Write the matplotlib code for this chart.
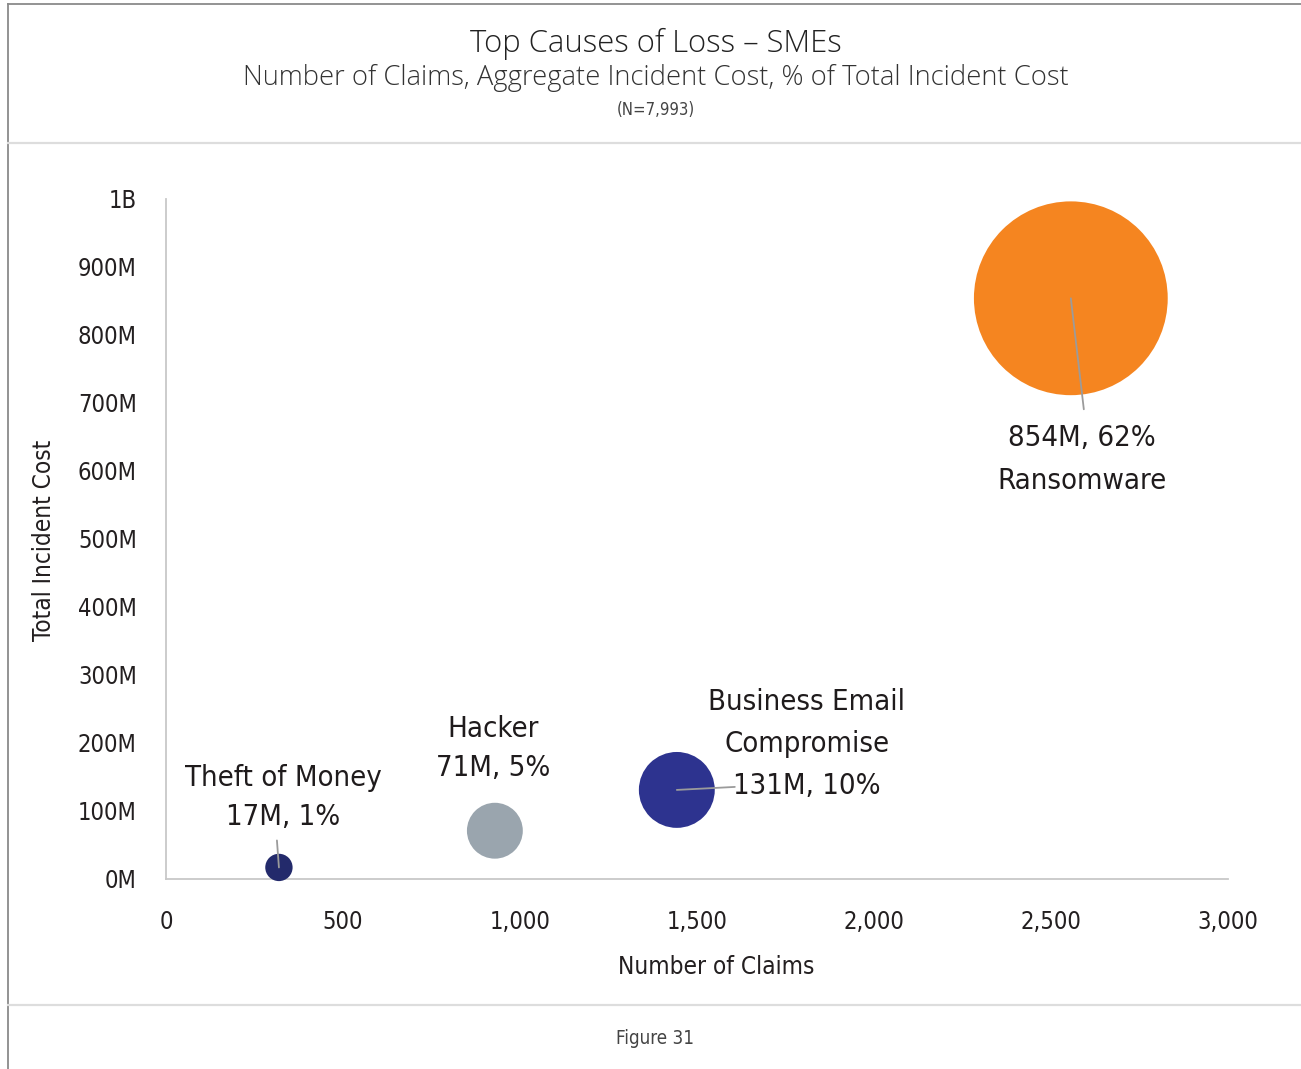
import matplotlib
matplotlib.use('Agg')
import matplotlib.pyplot as plt
from matplotlib import font_manager
from matplotlib.lines import Line2D
from matplotlib.ticker import FuncFormatter

# causes of loss: number of claims, aggregate cost (millions), share of total cost
causes = ['Theft of Money', 'Hacker', 'Business Email\nCompromise', 'Ransomware']
claims = [319, 929, 1443, 2556]
cost_m = [17, 71, 131, 854]
share = [1, 5, 10, 62]
colors = ['#232a6b', '#9aa5ae', '#2d338f', '#f58520']

x_ticks = [0, 500, 1000, 1500, 2000, 2500, 3000]
y_ticks = [0, 100, 200, 300, 400, 500, 600, 700, 800, 900, 1000]

# pick the narrowest face available for the axis text
fonts = font_manager.fontManager.ttflist
names = {f.name for f in fonts}
rank = {'ultra-condensed': 0, 'extra-condensed': 1, 'condensed': 2, 'semi-condensed': 3}
narrow, stretch, best = 'DejaVu Sans', 'normal', 9
for f in fonts:
    r = rank.get(f.stretch, 9)
    if r == 9 and ('Condensed' in f.name or 'Narrow' in f.name):
        r = 2
    if r < best:
        narrow, stretch, best = f.name, f.stretch, r
head = 'Open Sans' if 'Open Sans' in names else 'DejaVu Sans'

W, H = 1301, 1069
fig = plt.figure(figsize=(W / 100, H / 100), dpi=100)
ax = fig.add_axes([166 / W, 1 - 879 / H, 1062 / W, 680 / H])

# bubble area in proportion to cost
ax.scatter(claims, cost_m, s=[c * 22.8 for c in cost_m], c=colors,
           linewidths=0, zorder=3, clip_on=False)

txt = dict(textcoords='offset pixels', ha='center', va='center',
           family=narrow, stretch=stretch, fontsize=21,
           color='#1f1b1c', multialignment='center', zorder=4)
lead = dict(arrowstyle='-', color='#9b9b9b', lw=1.3, shrinkA=0, shrinkB=0)

labels = [f'{c}M, {p}%' for c, p in zip(cost_m, share)]

ax.annotate(f'{causes[0]}\n{labels[0]}', (claims[0], cost_m[0]), xytext=(4, 70),
            linespacing=1.5, **txt)
ax.annotate(f'{causes[1]}\n{labels[1]}', (claims[1], cost_m[1]), xytext=(-2, 82),
            linespacing=1.5, **txt)
ax.annotate(f'{causes[2]}\n{labels[2]}', (claims[2], cost_m[2]), xytext=(130, 46),
            linespacing=1.65, **txt)
ax.annotate(f'{labels[3]}\n{causes[3]}', (claims[3], cost_m[3]), xytext=(11, -161),
            linespacing=1.68, **txt)

# leader lines from bubble centres toward their labels
for i, off in [(0, (-2, 27)), (2, (58, 3)), (3, (13, -111))]:
    ax.annotate('', (claims[i], cost_m[i]), xytext=off, textcoords='offset pixels',
                arrowprops=lead, zorder=4)

ax.set_xlim(0, 3000)
ax.set_ylim(0, 1000)
ax.set_xticks(x_ticks)
ax.set_yticks(y_ticks)
ax.xaxis.set_major_formatter(FuncFormatter(lambda v, _: f'{int(v):,}'))
ax.yaxis.set_major_formatter(FuncFormatter(lambda v, _: '1B' if v >= 1000 else f'{int(v)}M'))
ax.tick_params(length=0, labelsize=17, labelcolor='#231f20')
ax.tick_params(axis='x', pad=22)
ax.tick_params(axis='y', pad=21)
for lab in ax.get_xticklabels() + ax.get_yticklabels():
    lab.set_family(narrow)
    lab.set_stretch(stretch)

for side in ['top', 'right']:
    ax.spines[side].set_visible(False)
for side in ['left', 'bottom']:
    ax.spines[side].set_color('#c8c8c8')
    ax.spines[side].set_linewidth(1.3)

ax.set_xlabel('Number of Claims', family=narrow, stretch=stretch, fontsize=17.5, color='#231f20')
ax.xaxis.set_label_coords(550 / 1062, -88 / 680)
ax.xaxis.label.set_va('center')
ax.set_ylabel('Total Incident Cost', family=narrow, stretch=stretch, fontsize=17.5, color='#231f20')
ax.yaxis.set_label_coords(-122 / 1062, 339 / 680)
ax.yaxis.label.set_va('center')

# headings
fig.text(656 / W, 1 - 44 / H, 'Top Causes of Loss – SMEs', family=head, fontweight='light',
         fontsize=22.3, color='#222222', ha='center', va='center')
fig.text(656 / W, 1 - 78 / H, 'Number of Claims, Aggregate Incident Cost, % of Total Incident Cost',
         family=head, fontweight='light', fontsize=19.7, color='#333333', ha='center', va='center')
fig.text(656 / W, 1 - 110 / H, '(N=7,993)', family=narrow, stretch=stretch, fontsize=12,
         color='#444444', ha='center', va='center')
fig.text(655 / W, 1 - 1039 / H, 'Figure 31', family=narrow, stretch=stretch, fontsize=13.5,
         color='#444444', ha='center', va='center')

# frame and separators
fig.add_artist(Line2D([8 / W, 8 / W], [0, 1 - 4 / H], color='#8a8a8a', lw=1.3))
fig.add_artist(Line2D([8 / W, 1], [1 - 4 / H, 1 - 4 / H], color='#8a8a8a', lw=1.3))
fig.add_artist(Line2D([8 / W, 1], [1 - 143 / H, 1 - 143 / H], color='#dddddd', lw=1.6))
fig.add_artist(Line2D([8 / W, 1], [1 - 1005 / H, 1 - 1005 / H], color='#dddddd', lw=1.6))

fig.savefig('out.png', dpi=100, facecolor='white')
